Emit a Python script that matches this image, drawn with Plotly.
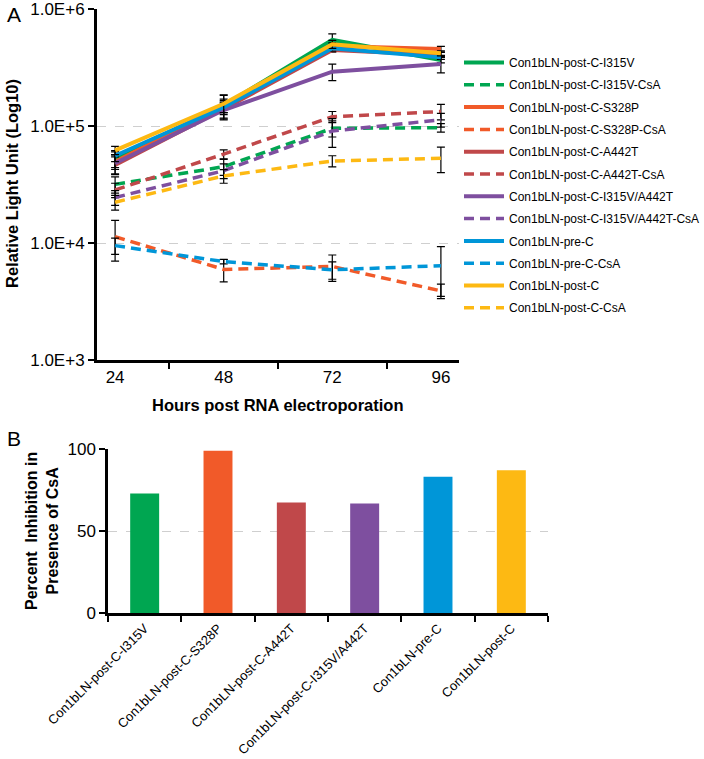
import plotly.graph_objects as go

# ---------------- data ----------------
hours = ["24", "48", "72", "96"]

series_names = [
    "Con1bLN-post-C-I315V", "Con1bLN-post-C-I315V-CsA",
    "Con1bLN-post-C-S328P", "Con1bLN-post-C-S328P-CsA",
    "Con1bLN-post-C-A442T", "Con1bLN-post-C-A442T-CsA",
    "Con1bLN-post-C-I315V/A442T", "Con1bLN-post-C-I315V/A442T-CsA",
    "Con1bLN-pre-C", "Con1bLN-pre-C-CsA",
    "Con1bLN-post-C", "Con1bLN-post-C-CsA",
]

i315v = [52000, 150000, 544000, 366000]
i315v_err = [8000, 20000, 70000, 20000]
i315v_csa = [31700, 44900, 95500, 96800]
i315v_csa_err = [5000, 7000, 15000, 8000]
s328p = [49500, 148000, 483000, 455000]
s328p_err = [7000, 35000, 30000, 25000]
s328p_csa = [11300, 5950, 6300, 3900]
s328p_csa_err = [4300, 1300, 1600, 550]
a442t = [46400, 140000, 447000, 405000]
a442t_err = [8000, 25000, 20000, 20000]
a442t_csa = [28400, 57500, 120000, 133000]
a442t_csa_err = [4000, 5000, 13000, 20000]
dbl = [48000, 137000, 291000, 339000]
dbl_err = [9000, 20000, 47000, 55000]
dbl_csa = [24500, 41500, 90600, 113000]
dbl_csa_err = [3500, 6000, 25000, 15000]
prec = [55700, 145000, 462000, 386000]
prec_err = [6000, 15000, 25000, 15000]
prec_csa = [9500, 6930, 5900, 6400]
prec_csa_err = [1500, 300, 1000, 2900]
postc = [62000, 155000, 500000, 418000]
postc_err = [5000, 30000, 40000, 20000]
postc_csa = [22300, 37400, 50200, 53000]
postc_csa_err = [3200, 5000, 5500, 13000]

y_tickvals = [1e3, 1e4, 1e5, 1e6]
y_ticktext = ["1.0E+3", "1.0E+4", "1.0E+5", "1.0E+6"]

bar_categories = ["Con1bLN-post-C-I315V", "Con1bLN-post-C-S328P", "Con1bLN-post-C-A442T",
                  "Con1bLN-post-C-I315V/A442T", "Con1bLN-pre-C", "Con1bLN-post-C"]
inhibition = [72.9, 99.0, 67.4, 66.8, 83.1, 87.0]

# ---------------- styles ----------------
GREEN = "#00a651"
ORANGE = "#f15a29"
RED = "#c0484a"
PURPLE = "#7e4f9f"
BLUE = "#0096d8"
YELLOW = "#fdb913"
FONT = "Liberation Sans, Arial, sans-serif"

series_values = [i315v, i315v_csa, s328p, s328p_csa, a442t, a442t_csa,
                 dbl, dbl_csa, prec, prec_csa, postc, postc_csa]
series_errs = [i315v_err, i315v_csa_err, s328p_err, s328p_csa_err, a442t_err, a442t_csa_err,
               dbl_err, dbl_csa_err, prec_err, prec_csa_err, postc_err, postc_csa_err]
series_colors = [GREEN, GREEN, ORANGE, ORANGE, RED, RED, PURPLE, PURPLE, BLUE, BLUE, YELLOW, YELLOW]

fig = go.Figure()

for i, (nm, vals, errs, col) in enumerate(zip(series_names, series_values, series_errs, series_colors)):
    dashed = nm.endswith("CsA")
    fig.add_trace(go.Scatter(
        x=hours, y=vals, name=nm, mode="lines",
        line=dict(color=col, width=3.5 if dashed else 4, dash="10px,6px" if dashed else "solid"),
        error_y=dict(type="data", array=errs, visible=True, color="black", thickness=1.2, width=4),
        legendgroup=nm,
        xaxis="x", yaxis="y",
    ))

fig.add_trace(go.Bar(
    x=bar_categories, y=inhibition,
    marker=dict(color=[GREEN, ORANGE, RED, PURPLE, BLUE, YELLOW], line=dict(width=0)),
    showlegend=False, xaxis="x2", yaxis="y2",
))

W, H = 704, 759


def px_x(p):
    return p / W


def px_y(p):
    return 1 - p / H


axis_common = dict(showline=True, linecolor="black", ticks="outside", tickcolor="black",
                   tickwidth=2, ticklen=6, automargin=False, ticklabeloverflow="allow",
                   tickfont=dict(family=FONT, size=17, color="black"))

fig.update_layout(
    width=W, height=H,
    margin=dict(l=0, r=0, t=0, b=0, autoexpand=False),
    paper_bgcolor="white", plot_bgcolor="white",
    font=dict(family=FONT, color="black"),
    bargap=0.605,
    xaxis=dict(domain=[px_x(97), px_x(459)], anchor="y", type="category",
               tickson="boundaries", showgrid=False, linewidth=3, **axis_common),
    yaxis=dict(domain=[px_y(360), px_y(9)], anchor="x", type="log", range=[3, 6],
               tickvals=y_tickvals, ticktext=y_ticktext, showgrid=True,
               gridcolor="#cfcfcf", griddash="dash", gridwidth=1, linewidth=3, **axis_common),
    xaxis2=dict(domain=[px_x(108), px_x(548)], anchor="y2", type="category",
                tickson="boundaries", showgrid=False, linewidth=2.5, tickangle=-45,
                **{k: v for k, v in axis_common.items() if k != "tickfont"},
                tickfont=dict(family=FONT, size=13, color="black")),
    yaxis2=dict(domain=[px_y(613), px_y(449)], anchor="x2", range=[0, 100],
                tickvals=[0, 50, 100], showgrid=True, gridcolor="#cfcfcf", griddash="dash",
                gridwidth=1, linewidth=2.5, zeroline=False, **axis_common),
    legend=dict(x=px_x(459), y=px_y(48), xanchor="left", yanchor="top",
                traceorder="grouped", tracegroupgap=3.3, bgcolor="rgba(0,0,0,0)",
                font=dict(family=FONT, size=12, color="black"), itemwidth=40),
    annotations=[
        dict(text="A", x=px_x(14), y=px_y(15), xref="paper", yref="paper", showarrow=False,
             xanchor="center", yanchor="middle", font=dict(family=FONT, size=21, color="black")),
        dict(text="B", x=px_x(14), y=px_y(438), xref="paper", yref="paper", showarrow=False,
             xanchor="center", yanchor="middle", font=dict(family=FONT, size=21, color="black")),
        dict(text="<b>Relative Light Unit (Log10)</b>", x=px_x(12), y=px_y(184), xref="paper",
             yref="paper", showarrow=False, textangle=-90, xanchor="center", yanchor="middle",
             font=dict(family=FONT, size=16.5, color="black")),
        dict(text="<b>Hours post RNA electroporation</b>", x=px_x(278), y=px_y(405), xref="paper",
             yref="paper", showarrow=False, xanchor="center", yanchor="middle",
             font=dict(family=FONT, size=16.5, color="black")),
        dict(text="<b>Percent\u00a0 Inhibition in<br>Presence of CsA</b>", x=px_x(42), y=px_y(531),
             xref="paper", yref="paper", showarrow=False, textangle=-90,
             xanchor="center", yanchor="middle",
             font=dict(family=FONT, size=16, color="black")),
    ],
)

fig.write_html("out.html", config={"displayModeBar": False},
               post_script="document.body.style.margin='0';")
